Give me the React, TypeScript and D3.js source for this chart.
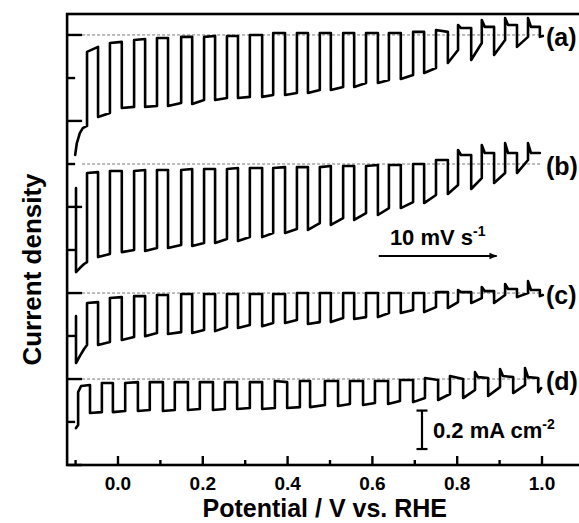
import React from "react";
import * as d3 from "d3";

const W = 579;
const H = 523;
const FONT = "'Liberation Sans', Arial, Helvetica, sans-serif";

// chopped-light switching potentials (V vs. RHE), curves a–c
const lightOnV = [-0.073, -0.019, 0.038, 0.092, 0.149, 0.203, 0.257, 0.311, 0.366, 0.422, 0.476, 0.531, 0.585, 0.639, 0.696, 0.75, 0.802, 0.858, 0.913, 0.967];
const lightOffV = [-0.047, 0.009, 0.064, 0.118, 0.175, 0.229, 0.283, 0.34, 0.394, 0.448, 0.502, 0.557, 0.613, 0.667, 0.722, 0.778, 0.833, 0.887, 0.941, 0.995];
// curve d
const lightOnVd = [-0.094, -0.038, 0.017, 0.075, 0.134, 0.193, 0.252, 0.311, 0.37, 0.429, 0.488, 0.547, 0.606, 0.665, 0.724, 0.783, 0.842, 0.901, 0.96];
const lightOffVd = [-0.066, -0.012, 0.047, 0.106, 0.165, 0.224, 0.281, 0.34, 0.399, 0.453, 0.519, 0.578, 0.637, 0.696, 0.755, 0.814, 0.873, 0.932, 0.991];

// current density relative to each curve's dashed reference (mA cm-2)
// (a)
const aLead: [number, number][] = [[-0.101, -0.624], [-0.097, -0.562], [-0.09, -0.51], [-0.083, -0.484]];
const aDark = [-0.473, -0.406, -0.374, -0.369, -0.354, -0.338, -0.328, -0.322, -0.312, -0.302, -0.286, -0.27, -0.25, -0.234, -0.208, -0.172, -0.078, -0.042, -0.026, -0.01];
const aPeak = [-0.088, -0.042, -0.026, -0.016, -0.01, -0.01, -0.005, 0, 0.01, 0.01, 0.01, 0.01, 0.01, 0.01, 0.016, 0.026, 0.052, 0.078, 0.088, 0.088];
const aSettle = [null, null, null, null, null, null, null, null, null, null, null, null, null, null, null, null, 0.036, 0.042, 0.052, 0.042];
const aLight = [-0.062, -0.036, -0.021, -0.016, -0.01, -0.005, -0.005, 0, 0.01, 0.01, 0.01, 0.01, 0.01, 0.01, 0.016, 0.016, 0.036, 0.042, 0.052, 0.042];
const aTrough = [-0.426, -0.38, -0.374, -0.369, -0.359, -0.338, -0.328, -0.322, -0.312, -0.302, -0.286, -0.27, -0.25, -0.229, -0.198, -0.146, -0.13, -0.104, -0.062, -0.01];
const aTail: [number, number][] = [[1.002, -0.005]];

// (b)
const bLead: [number, number][] = [[-0.099, -0.125], [-0.099, -0.562], [-0.09, -0.541], [-0.08, -0.52]];
const bDark = [-0.51, -0.468, -0.447, -0.437, -0.421, -0.411, -0.39, -0.38, -0.359, -0.338, -0.307, -0.281, -0.255, -0.229, -0.198, -0.161, -0.109, -0.073, -0.047, 0.021];
const bPeak = [-0.047, -0.036, -0.036, -0.031, -0.031, -0.026, -0.026, -0.021, -0.021, -0.016, -0.016, -0.01, -0.01, -0.005, 0, 0.021, 0.073, 0.099, 0.109, 0.109];
const bSettle = [null, null, null, null, null, null, null, null, null, null, null, null, null, null, null, null, 0.047, 0.057, 0.057, 0.057];
const bLight = [-0.042, -0.036, -0.031, -0.031, -0.026, -0.026, -0.021, -0.021, -0.016, -0.016, -0.01, -0.01, -0.005, -0.005, 0, 0.021, 0.047, 0.057, 0.057, 0.057];
const bTrough = [-0.484, -0.458, -0.452, -0.437, -0.426, -0.411, -0.4, -0.38, -0.359, -0.343, -0.317, -0.291, -0.265, -0.229, -0.203, -0.156, -0.13, -0.099, -0.047, 0.057];
const bTail: [number, number][] = [];

// (c)
const cLead: [number, number][] = [[-0.099, -0.12], [-0.099, -0.364], [-0.09, -0.328], [-0.08, -0.291]];
const cDark = [-0.27, -0.255, -0.229, -0.208, -0.203, -0.192, -0.177, -0.166, -0.156, -0.14, -0.151, -0.13, -0.125, -0.104, -0.088, -0.073, -0.047, -0.026, -0.01, 0];
const cPeak = [-0.052, -0.026, -0.016, -0.01, -0.005, -0.005, -0.005, -0.005, -0.005, 0, 0, 0, 0, 0, 0, 0.005, 0.016, 0.031, 0.047, 0.062];
const cSettle = [null, null, null, null, null, null, null, null, null, null, null, null, null, null, null, null, 0.005, 0.01, 0.021, 0.016];
const cLight = [-0.047, -0.021, -0.016, -0.01, -0.005, -0.005, -0.005, -0.005, -0.005, 0, 0, 0, 0, 0, 0, 0.005, 0.005, 0.01, 0.021, 0.016];
const cTrough = [-0.27, -0.244, -0.224, -0.213, -0.208, -0.198, -0.182, -0.172, -0.156, -0.161, -0.151, -0.135, -0.125, -0.104, -0.099, -0.078, -0.052, -0.052, -0.021, -0.016];
const cTail: [number, number][] = [[1.002, -0.01]];

// (d)
const dLead: [number, number][] = [[-0.099, -0.255]];
const dDark = [-0.239, -0.172, -0.166, -0.161, -0.161, -0.156, -0.156, -0.151, -0.151, -0.146, -0.135, -0.13, -0.125, -0.114, -0.099, -0.078, -0.057, -0.042, -0.031];
const dPeak = [-0.068, -0.021, -0.021, -0.016, -0.016, -0.016, -0.016, -0.016, -0.01, -0.01, -0.01, -0.01, -0.01, -0.005, 0.005, 0.016, 0.036, 0.052, 0.057];
const dSettle = [-0.036, null, null, null, null, null, null, null, null, null, null, null, null, null, null, null, 0.01, 0.016, 0.01];
const dLight = [-0.031, -0.021, -0.016, -0.016, -0.016, -0.016, -0.016, -0.016, -0.016, -0.01, -0.01, -0.01, -0.01, -0.005, -0.005, 0, 0.005, 0.01, 0.005];
const dTrough = [-0.177, -0.172, -0.166, -0.166, -0.161, -0.161, -0.156, -0.156, -0.151, -0.146, -0.14, -0.135, -0.13, -0.12, -0.109, -0.099, -0.088, -0.073, -0.068];
const dTail: [number, number][] = [[0.998, -0.047]];

const curveLabels = ["(a)", "(b)", "(c)", "(d)"];
const curveOffsets = [2.236, 1.565, 0.894, 0.447];

const yMajorTicks = [0, 0.447, 0.894, 1.342, 1.789, 2.236];
const yMinorTicks = [0.224, 0.671, 1.118, 1.565, 2.012];
const xMajorTicks = [0, 0.2, 0.4, 0.6, 0.8, 1.0];
const xMinorTicks = [-0.1, 0.1, 0.3, 0.5, 0.7, 0.9];

const scanRateText = "10 mV s";
const scaleBarValue = 0.2; // mA cm-2

const SETTLE_DV = 0.007;

type Pt = [number, number];

function buildCurve(
  lead: Pt[], on: number[], off: number[], dark: number[], peak: number[],
  settle: (number | null)[], light: number[], trough: number[], tail: Pt[]
): Pt[] {
  const pts: Pt[] = [...lead];
  on.forEach((v, i) => {
    pts.push([v, dark[i]]);
    pts.push([v, peak[i]]);
    const s = settle[i];
    if (s !== null && s !== undefined) pts.push([v + SETTLE_DV, s]);
    pts.push([off[i], light[i]]);
    pts.push([off[i], trough[i]]);
  });
  pts.push(...tail);
  return pts;
}

const curves: Pt[][] = [
  buildCurve(aLead, lightOnV, lightOffV, aDark, aPeak, aSettle, aLight, aTrough, aTail),
  buildCurve(bLead, lightOnV, lightOffV, bDark, bPeak, bSettle, bLight, bTrough, bTail),
  buildCurve(cLead, lightOnV, lightOffV, cDark, cPeak, cSettle, cLight, cTrough, cTail),
  buildCurve(dLead, lightOnVd, lightOffVd, dDark, dPeak, dSettle, dLight, dTrough, dTail),
];

export default function App() {
  const x = d3.scaleLinear().domain([-0.12, 1.1]).range([67.1, 584.4]);
  const y = d3.scaleLinear().domain([0, 2.345]).range([465, 14]);
  const x0 = x(-0.12);
  const x1 = x(1.1);
  const yB = y(0);
  const yT = y(2.345);

  return (
    <div style={{ position: "absolute", left: 0, top: 0 }}>
      <svg width={W} height={H} style={{ display: "block", background: "#fff" }} fontFamily={FONT}>
        {/* dashed reference lines */}
        {curveOffsets.map((o, k) => (
          <line key={"ref" + k} x1={x0 + 15} x2={x(1.0)} y1={y(o)} y2={y(o)}
            stroke="#777" strokeWidth={1} strokeDasharray="3,2" />
        ))}
        {/* curves */}
        {curves.map((pts, k) => {
          const line = d3.line<Pt>().x((d) => x(d[0])).y((d) => y(curveOffsets[k] + d[1]));
          return (
            <path key={"c" + k} d={line(pts) || ""} fill="none" stroke="#000"
              strokeWidth={2.6} strokeLinejoin="round" strokeLinecap="round" />
          );
        })}
        {/* frame */}
        <rect x={x0} y={yT} width={x1 - x0} height={yB - yT} fill="none" stroke="#000" strokeWidth={2.6} />
        {/* y ticks */}
        {yMajorTicks.map((t) => (
          <line key={"ym" + t} x1={x0} x2={x0 + 15} y1={y(t)} y2={y(t)} stroke="#000" strokeWidth={2.4} />
        ))}
        {yMinorTicks.map((t) => (
          <line key={"yn" + t} x1={x0} x2={x0 + 8} y1={y(t)} y2={y(t)} stroke="#000" strokeWidth={2.4} />
        ))}
        {/* x ticks */}
        {xMajorTicks.map((t) => (
          <line key={"xm" + t} x1={x(t)} x2={x(t)} y1={yB} y2={yB - 9} stroke="#000" strokeWidth={2.4} />
        ))}
        {xMinorTicks.map((t) => (
          <line key={"xn" + t} x1={x(t)} x2={x(t)} y1={yB} y2={yB - 5} stroke="#000" strokeWidth={2.4} />
        ))}
        {xMajorTicks.map((t) => (
          <text key={"xl" + t} x={x(t)} y={yB + 25} textAnchor="middle" fontSize={19} fontWeight="bold">
            {d3.format(".1f")(t)}
          </text>
        ))}
        {/* axis titles */}
        <text x={(x0 + x1) / 2 - 1} y={516.5} textAnchor="middle" fontSize={25} fontWeight="bold">
          Potential / V vs. RHE
        </text>
        <text transform={`translate(41, ${(yT + yB) / 2 + 30}) rotate(-90)`} textAnchor="middle" fontSize={26} fontWeight="bold">
          Current density
        </text>
        {/* curve labels */}
        {curveLabels.map((lab, k) => (
          <text key={lab} x={x(1.0) + 4} y={y(curveOffsets[k]) + 11} fontSize={25} fontWeight="bold">
            {lab}
          </text>
        ))}
        {/* scan direction arrow */}
        <defs>
          <marker id="arr" viewBox="0 0 10 10" refX={9} refY={5} markerWidth={11} markerHeight={8} markerUnits="userSpaceOnUse" orient="auto">
            <path d="M0,1 L10,5 L0,9 z" fill="#000" />
          </marker>
        </defs>
        <line x1={x(0.615)} x2={x(0.893)} y1={y(1.087)} y2={y(1.087)} stroke="#000" strokeWidth={2} markerEnd="url(#arr)" />
        <text x={x(0.754)} y={y(1.145)} textAnchor="middle" fontSize={22} fontWeight="bold">
          {scanRateText}
          <tspan fontSize={14} dy={-9}>-1</tspan>
        </text>
        {/* scale bar */}
        <g>
          <line x1={x(0.717)} x2={x(0.717)} y1={y(0.083)} y2={y(0.083 + scaleBarValue)} stroke="#000" strokeWidth={2.2} />
          <line x1={x(0.717) - 5.5} x2={x(0.717) + 5.5} y1={y(0.083)} y2={y(0.083)} stroke="#000" strokeWidth={2.2} />
          <line x1={x(0.717) - 5.5} x2={x(0.717) + 5.5} y1={y(0.083 + scaleBarValue)} y2={y(0.083 + scaleBarValue)} stroke="#000" strokeWidth={2.2} />
          <text x={x(0.717) + 11} y={y(0.083 + scaleBarValue / 2) + 8} fontSize={22} fontWeight="bold">
            {`${scaleBarValue} mA cm`}
            <tspan fontSize={14} dy={-9}>-2</tspan>
          </text>
        </g>
      </svg>
    </div>
  );
}
